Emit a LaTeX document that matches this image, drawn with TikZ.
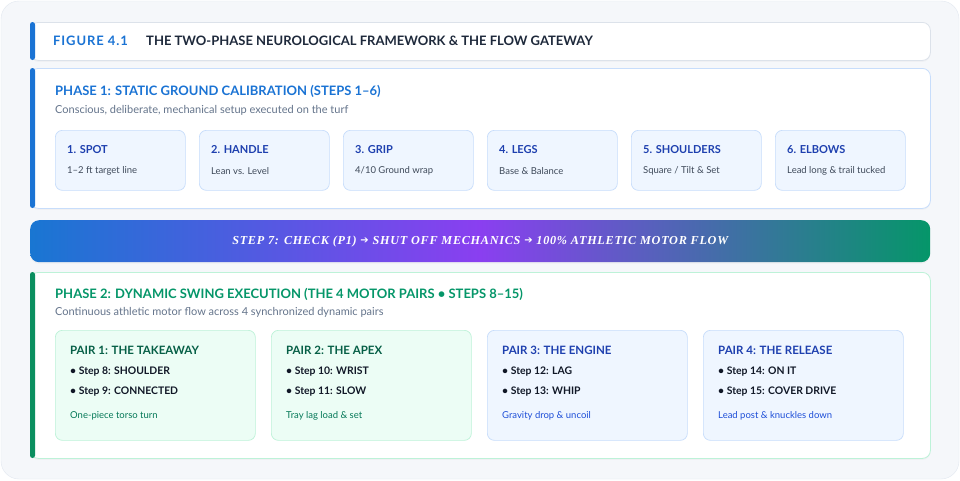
\documentclass[tikz,border=0pt]{standalone}
\usepackage{fontspec}
\setmainfont{Lato}
\newfontfamily\bannerfont{Liberation Serif}[LetterSpace=6]
\newfontfamily\arrowfont{DejaVu Sans}
\usetikzlibrary{shadows}

\definecolor{pagebg}{HTML}{F5F7FA}
\definecolor{pageline}{HTML}{E2E8F0}
\definecolor{barline}{HTML}{DCE2EA}
\definecolor{accblue}{HTML}{1A73D4}
\definecolor{accgreen}{HTML}{0A8F5F}
\definecolor{inkdark}{HTML}{1E293B}
\definecolor{inkgray}{HTML}{64748B}
\definecolor{inksub}{HTML}{3F4A5A}
\definecolor{inkbullet}{HTML}{111827}
\definecolor{blueline}{HTML}{C7DDFB}
\definecolor{bluefill}{HTML}{EFF6FF}
\definecolor{bluetitle}{HTML}{1E40AF}
\definecolor{bluenote}{HTML}{1D4ED8}
\definecolor{greenline}{HTML}{BDF2D8}
\definecolor{greenfill}{HTML}{ECFDF5}
\definecolor{greentitle}{HTML}{065F46}
\definecolor{greennote}{HTML}{047857}
\definecolor{greenhead}{HTML}{059669}
\definecolor{gradA}{HTML}{1976D2}
\definecolor{gradB}{HTML}{8A3FF0}
\definecolor{gradC}{HTML}{059669}
\pgfdeclarehorizontalshading{gateshade}{100bp}{color(0bp)=(gradA); color(25bp)=(gradA);
  color(50bp)=(gradB); color(75bp)=(gradC); color(100bp)=(gradC)}

\begin{document}
\begin{tikzpicture}[x=1pt, y=-1pt,
    panel/.style={draw=#1, fill=white, rounded corners=8pt, line width=0.8pt,
      anchor=north west, minimum width=900pt, inner sep=0pt,
      drop shadow={opacity=0.05, shadow xshift=0pt, shadow yshift=-1.5pt}},
    card/.style={anchor=north west, rounded corners=7pt, line width=0.7pt, inner sep=0pt},
    label/.style={anchor=west, inner sep=0pt},
    headtext/.style={label, font=\fontsize{13}{15}\selectfont\bfseries},
    subtext/.style={label, text=inkgray, font=\fontsize{11}{13}\selectfont}]

  % page
  \fill[white] (0,0) rectangle (960,480);
  \draw[pageline, fill=pagebg, rounded corners=18pt] (1,1) rectangle (959,479);

  % title bar
  \node[panel=barline, minimum height=38pt] (titlebar) at (30,22) {};
  \fill[accblue, rounded corners=2.5pt] (30,22) rectangle (35,60);
  \node[headtext, text=accblue, font=\fontsize{13}{15}\selectfont\bfseries\addfontfeatures{LetterSpace=7}]
    (fig) at (53,41) {FIGURE 4.1};
  \node[headtext, text=inkdark] (figtitle) at (146,41)
    {THE TWO-PHASE NEUROLOGICAL FRAMEWORK \& THE FLOW GATEWAY};

  % phase 1
  \node[panel=blueline, minimum height=140pt] (phaseone) at (30,68) {};
  \fill[accblue, rounded corners=2.5pt] (30,68) rectangle (35,208);
  \node[headtext, text=accblue] (p1head) at (55,91) {PHASE 1: STATIC GROUND CALIBRATION (STEPS 1--6)};
  \node[subtext] (p1sub) at (55,110) {Conscious, deliberate, mechanical setup executed on the turf};

  \foreach \name/\sub [count=\i] in {1. SPOT/1--2 ft target line, 2. HANDLE/Lean vs. Level,
      3. GRIP/4\slash10 Ground wrap, 4. LEGS/Base \& Balance,
      5. SHOULDERS/Square \slash\ Tilt \& Set, 6. ELBOWS/Lead long \& trail tucked}
  {
    \node[card, draw=blueline, fill=bluefill, minimum width=130pt, minimum height=60pt]
      (step\i) at ({55+(\i-1)*144},130) {};
    \node[label, text=bluetitle, font=\fontsize{11}{13}\selectfont\bfseries]
      at ([xshift=12pt, yshift=-20pt]step\i.north west) {\name};
    \node[label, text=inksub, font=\fontsize{9.5}{11}\selectfont]
      at ([xshift=12pt, yshift=-41pt]step\i.north west) {\sub};
  }

  % gateway banner
  \node[anchor=north west, minimum width=900pt, minimum height=42pt, inner sep=0pt,
    rounded corners=9pt, shading=gateshade,
    drop shadow={opacity=0.06, shadow xshift=0pt, shadow yshift=-1.5pt}] (gate) at (30,220) {};
  \node[text=white, font=\fontsize{12.2}{14}\selectfont\bannerfont\bfseries\itshape] (gatetext) at (gate.center)
    {STEP 7: CHECK (P1) {\arrowfont\upshape\fontsize{10}{12}\selectfont\raisebox{0.3pt}{➔}} SHUT OFF MECHANICS
     {\arrowfont\upshape\fontsize{10}{12}\selectfont\raisebox{0.3pt}{➔}} 100\% ATHLETIC MOTOR FLOW};

  % phase 2
  \node[panel=greenline, minimum height=186pt] (phasetwo) at (30,272) {};
  \fill[accgreen, rounded corners=2.5pt] (30,272) rectangle (35,458);
  \node[headtext, text=greenhead] (p2head) at (55,294)
    {PHASE 2: DYNAMIC SWING EXECUTION (THE 4 MOTOR PAIRS • STEPS 8--15)};
  \node[subtext] (p2sub) at (55,312) {Continuous athletic motor flow across 4 synchronized dynamic pairs};

  \foreach \head/\stepa/\stepb/\note/\bd/\fl/\tc/\nc [count=\i] in {
      PAIR 1: THE TAKEAWAY/Step 8: SHOULDER/Step 9: CONNECTED/One-piece torso turn/greenline/greenfill/greentitle/greennote,
      PAIR 2: THE APEX/Step 10: WRIST/Step 11: SLOW/Tray lag load \& set/greenline/greenfill/greentitle/greennote,
      PAIR 3: THE ENGINE/Step 12: LAG/Step 13: WHIP/Gravity drop \& uncoil/blueline/bluefill/bluetitle/bluenote,
      PAIR 4: THE RELEASE/Step 14: ON IT/Step 15: COVER DRIVE/Lead post \& knuckles down/blueline/bluefill/bluetitle/bluenote}
  {
    \node[card, draw=\bd, fill=\fl, minimum width=200pt, minimum height=110pt]
      (pair\i) at ({55+(\i-1)*216},330) {};
    \node[label, text=\tc, font=\fontsize{11.5}{14}\selectfont\bfseries]
      at ([xshift=15pt, yshift=-20pt]pair\i.north west) {\head};
    \node[label, text=inkbullet, font=\fontsize{10.4}{12}\selectfont\bfseries]
      at ([xshift=15pt, yshift=-42pt]pair\i.north west) {• \stepa};
    \node[label, text=inkbullet, font=\fontsize{10.4}{12}\selectfont\bfseries]
      at ([xshift=15pt, yshift=-62pt]pair\i.north west) {• \stepb};
    \node[label, text=\nc, font=\fontsize{9.5}{11}\selectfont]
      at ([xshift=15pt, yshift=-86pt]pair\i.north west) {\note};
  }
\end{tikzpicture}
\end{document}
